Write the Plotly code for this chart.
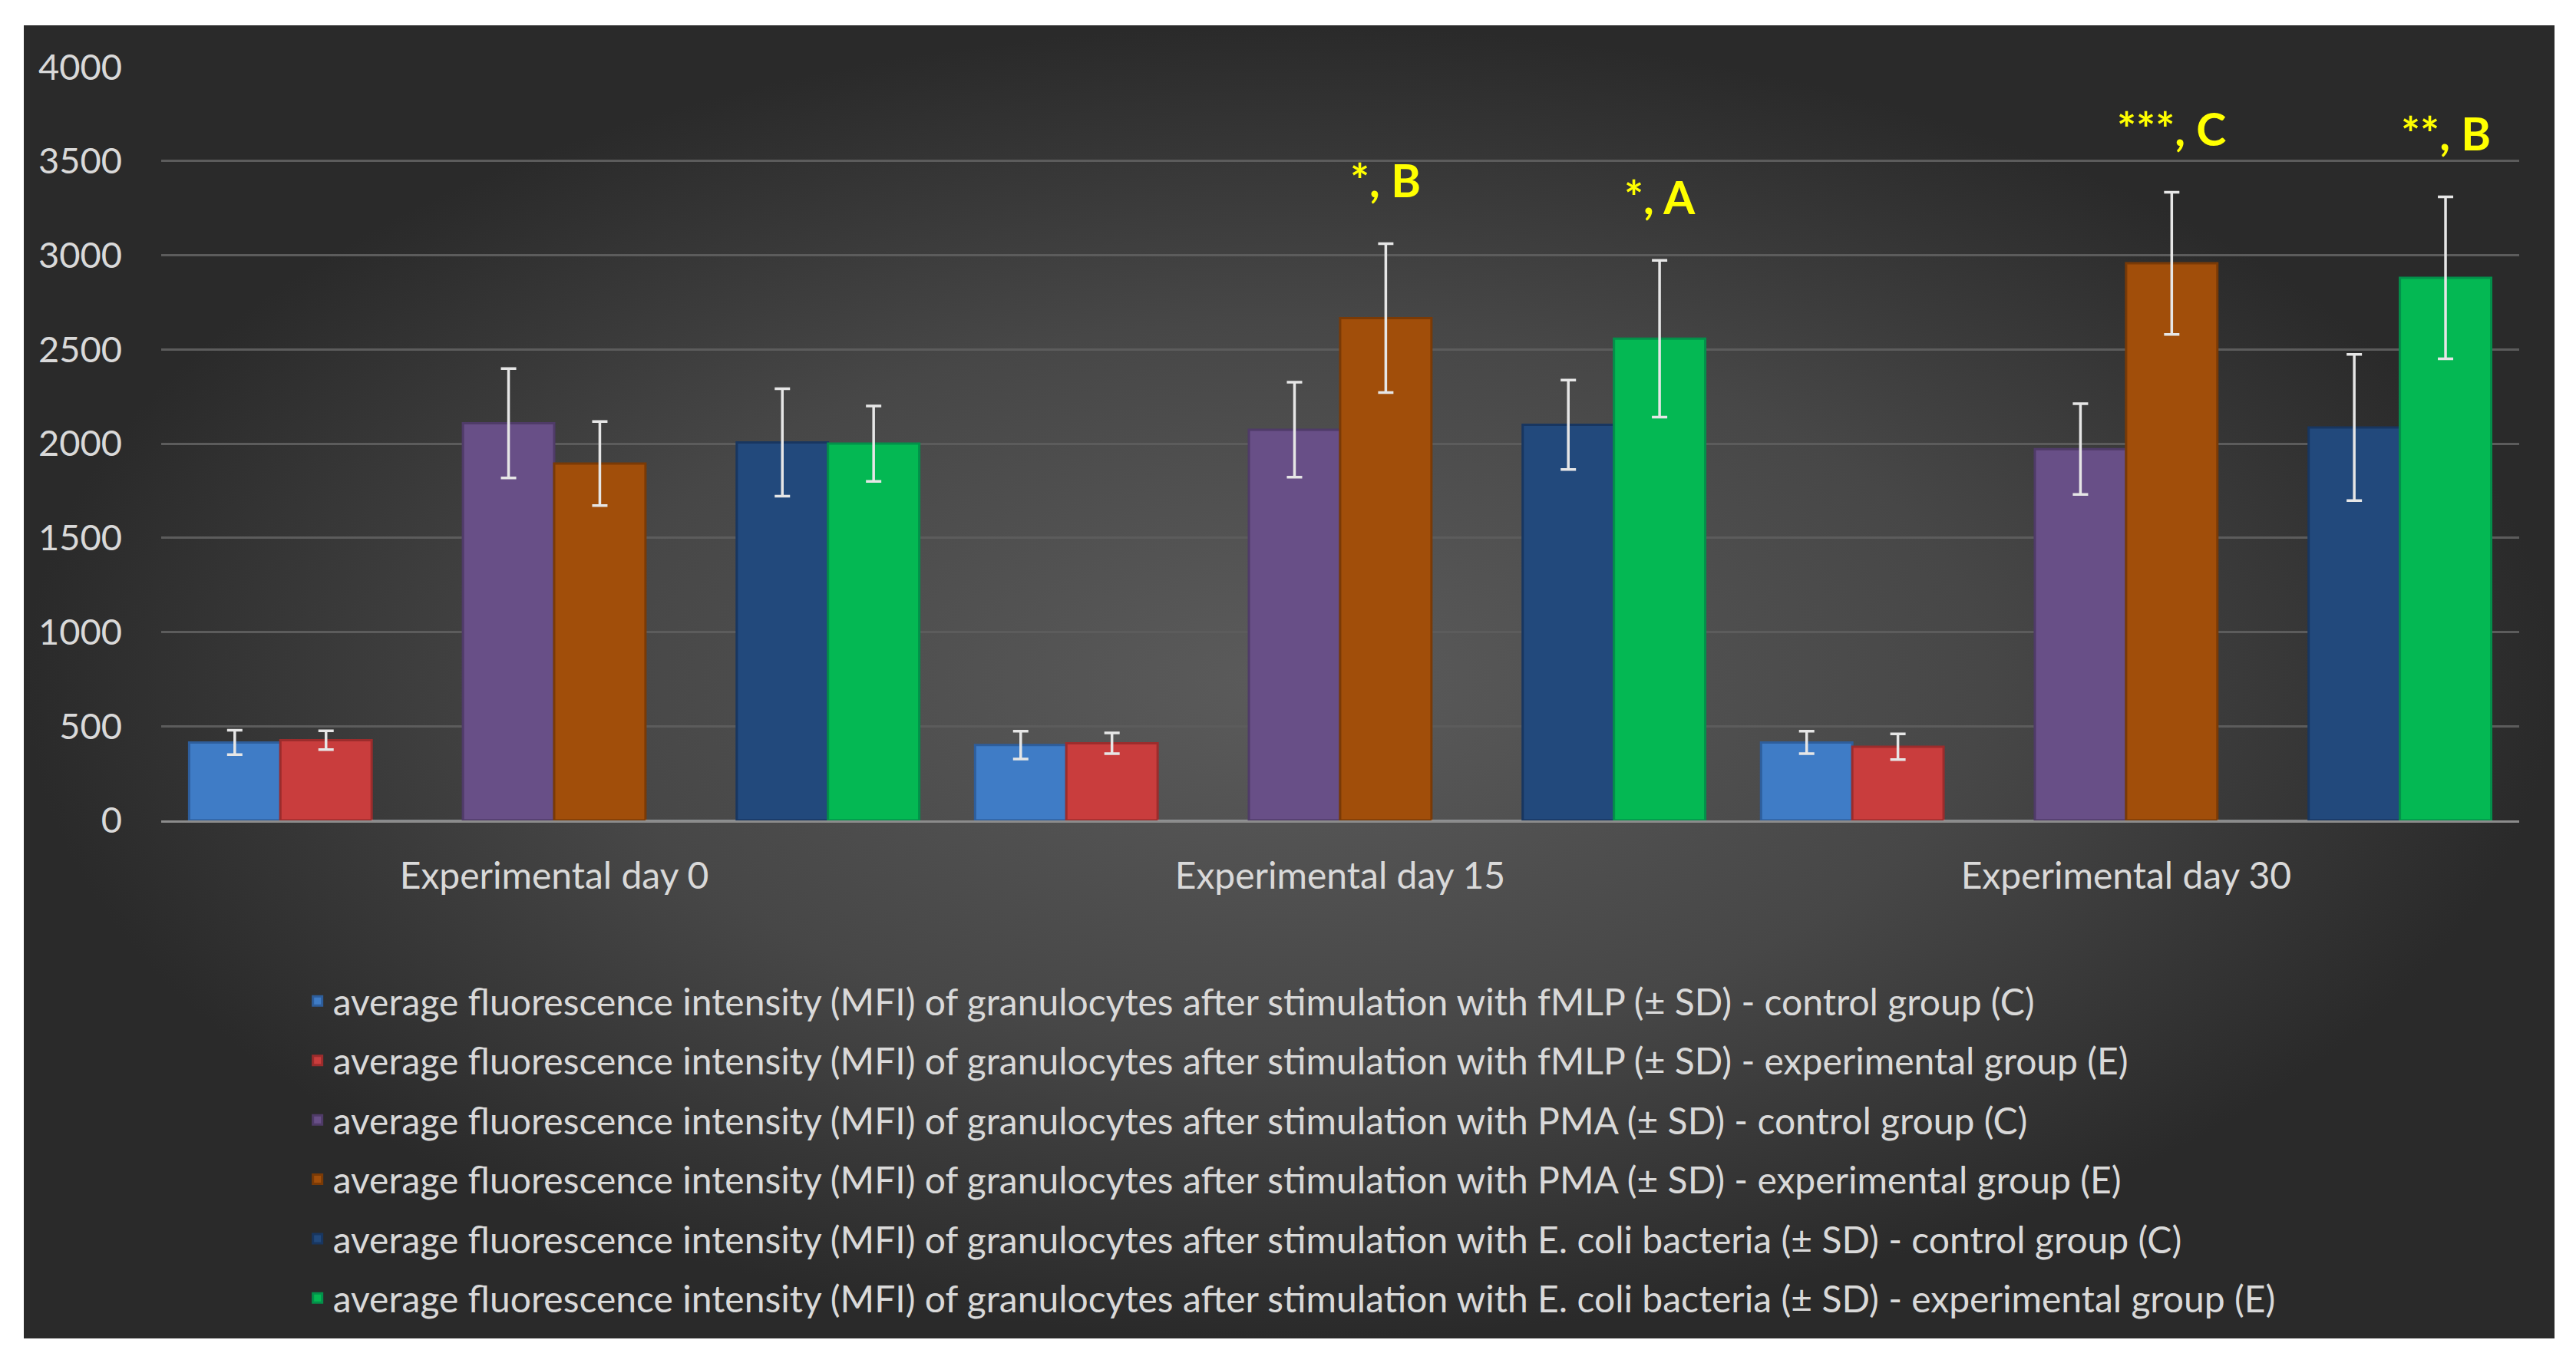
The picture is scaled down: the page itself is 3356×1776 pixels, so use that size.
import plotly.graph_objects as go

# categories and series (mean, SD)
days = ["Experimental day 0", "Experimental day 15", "Experimental day 30"]

names = [
    "average fluorescence intensity (MFI) of granulocytes after stimulation with fMLP (± SD) - control group (C)",
    "average fluorescence intensity (MFI) of granulocytes after stimulation with fMLP (± SD) - experimental group (E)",
    "average fluorescence intensity (MFI) of granulocytes after stimulation with PMA (± SD) - control group (C)",
    "average fluorescence intensity (MFI) of granulocytes after stimulation with PMA (± SD) - experimental group (E)",
    "average fluorescence intensity (MFI) of granulocytes after stimulation with E. coli bacteria (± SD) - control group (C)",
    "average fluorescence intensity (MFI) of granulocytes after stimulation with E. coli bacteria (± SD) - experimental group (E)",
]

fmlp_c = [414, 400, 414]
fmlp_c_sd = [65, 74, 60]
fmlp_e = [426, 409, 391]
fmlp_e_sd = [50, 55, 68]
pma_c = [2108, 2074, 1971]
pma_c_sd = [290, 252, 241]
pma_e = [1894, 2666, 2957]
pma_e_sd = [223, 395, 377]
ecoli_c = [2006, 2100, 2086]
ecoli_c_sd = [285, 237, 388]
ecoli_e = [2000, 2557, 2880]
ecoli_e_sd = [200, 416, 430]
spacer = [0, 0, 0]

colors = ["#3f7cc6", "#c93d3d", "#684f87", "#a14e0a", "#22497c", "#04b853"]
edges = ["#2e5e9c", "#9c2c2c", "#4f3b68", "#7a3a06", "#183660", "#03904a"]

# significance labels: (day index, slot index, mean, sd, text)
marks = [
    (1, 4, pma_e[1], pma_e_sd[1], "*, B"),
    (1, 7, ecoli_e[1], ecoli_e_sd[1], "*, A"),
    (2, 4, pma_e[2], pma_e_sd[2], "***, C"),
    (2, 7, ecoli_e[2], ecoli_e_sd[2], "**, B"),
]

FONT = "Lato"
TXT = "#d9d9d9"
bargap = 0.071

fig = go.Figure()

# dark panel with radial shading
fig.add_trace(go.Scatter(
    x=[0, 1, 1, 0, 0], y=[0, 0, 1, 1, 0],
    fill="toself", mode="none", hoverinfo="skip", showlegend=False,
    fillgradient=dict(type="radial",
                      colorscale=[[0, "#5b5b5b"], [0.55, "#474747"], [1, "#2a2a2a"]]),
    xaxis="x", yaxis="y"))

series = [
    (fmlp_c, fmlp_c_sd, 0), (fmlp_e, fmlp_e_sd, 1), None,
    (pma_c, pma_c_sd, 2), (pma_e, pma_e_sd, 3), None,
    (ecoli_c, ecoli_c_sd, 4), (ecoli_e, ecoli_e_sd, 5),
]

for i, s in enumerate(series):
    if s is None:
        fig.add_trace(go.Bar(x=days, y=spacer, marker_color="rgba(0,0,0,0)",
                             showlegend=False, hoverinfo="skip",
                             xaxis="x2", yaxis="y2"))
        continue
    vals, sd, k = s
    fig.add_trace(go.Bar(
        x=days, y=vals, name=names[k], legendgroup=str(k),
        marker=dict(color=colors[k], line=dict(color=edges[k], width=3)),
        error_y=dict(type="data", array=sd, color="#e6e6e6", thickness=3.5, width=10),
        xaxis="x2", yaxis="y2"))

slot = (1 - bargap) / 8
for day, idx, m, sd, text in marks:
    fig.add_annotation(
        x=day - (1 - bargap) / 2 + (idx + 0.5) * slot, y=m + sd,
        xref="x2", yref="y2", text="<b>" + text + "</b>", showarrow=False,
        yanchor="middle", yshift=83,
        font=dict(family=FONT, size=59, color="#ffff00"))

# page body keeps an 8px margin, so the figure is drawn 16px smaller
fig.update_layout(
    width=3340, height=1760,
    margin=dict(l=23, r=20, t=25, b=24, autoexpand=False),
    paper_bgcolor="white", plot_bgcolor="rgba(0,0,0,0)",
    barmode="group", bargap=bargap, bargroupgap=0,
    font=dict(family=FONT, size=48, color=TXT),
    xaxis=dict(domain=[0, 1], range=[0, 1], visible=False, fixedrange=True),
    yaxis=dict(domain=[0, 1], range=[0, 1], visible=False, fixedrange=True),
    xaxis2=dict(domain=[0.0543, 0.986], anchor="y2", showgrid=False, automargin=False,
                showline=True, linecolor="#8c8c8c", linewidth=3,
                tickfont=dict(size=48, color=TXT), ticklabelstandoff=28),
    yaxis2=dict(domain=[0.3945, 0.9684], anchor="x2", range=[0, 4000], dtick=500,
                gridcolor="#5c5c5c", gridwidth=3, zeroline=False, automargin=False,
                tickfont=dict(size=47, color=TXT), ticklabelstandoff=50),
    legend=dict(x=0.110, xanchor="left", y=0.279, yanchor="top",
                bgcolor="rgba(0,0,0,0)", font=dict(size=48, color=TXT),
                tracegroupgap=12, itemwidth=30),
    showlegend=True,
)

fig.write_html("out.html")
